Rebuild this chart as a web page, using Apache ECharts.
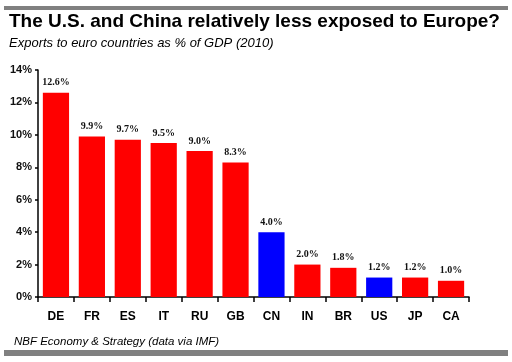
<!DOCTYPE html>
<html><head><meta charset="utf-8">
<script src="https://cdn.jsdelivr.net/npm/echarts@6/dist/echarts.min.js"></script>
<style>html,body{margin:0;padding:0;background:#fff}#c{width:512px;height:362px}</style>
</head><body><div id="c"></div>
<script>
const categories = ['DE','FR','ES','IT','RU','GB','CN','IN','BR','US','JP','CA'];
const values = [12.6, 9.9, 9.7, 9.5, 9.0, 8.3, 4.0, 2.0, 1.8, 1.2, 1.2, 1.0];
const highlighted = ['CN','US'];
const yTicks = [0, 2, 4, 6, 8, 10, 12, 14];

const chart = echarts.init(document.getElementById('c'), null, {renderer:'canvas'});
chart.setOption({
  animation: false,
  backgroundColor: '#fff',
  title: [
    {text: 'The U.S. and China relatively less exposed to Europe?', left: 4, top: 7,
     textStyle: {fontFamily: 'Liberation Sans, Arial', fontWeight: 'bold', fontSize: 19, color: '#000'}},
    {text: 'Exports to euro countries as % of GDP (2010)', left: 4, top: 32,
     textStyle: {fontFamily: 'Liberation Sans, Arial', fontStyle: 'italic', fontWeight: 'normal', fontSize: 13, color: '#000'}},
    {text: 'NBF Economy & Strategy (data via IMF)', left: 9, top: 331,
     textStyle: {fontFamily: 'Liberation Sans, Arial', fontStyle: 'italic', fontWeight: 'normal', fontSize: 11.5, color: '#000'}}
  ],
  graphic: [
    {type: 'rect', shape: {x: 4, y: 6, width: 504, height: 4}, style: {fill: '#808080'}},
    {type: 'rect', shape: {x: 4, y: 350, width: 504, height: 6}, style: {fill: '#808080'}}
  ],
  grid: {left: 38, right: 43, top: 70, bottom: 65},
  xAxis: {
    type: 'category', data: categories,
    axisLine: {lineStyle: {color: '#000', width: 1.5}},
    axisTick: {show: true, length: 5, lineStyle: {color: '#000', width: 1.5}},
    axisLabel: {margin: 14, fontFamily: 'Liberation Sans, Arial', fontWeight: 'bold', fontSize: 12, color: '#000'}
  },
  yAxis: {
    type: 'value', min: 0, max: 14, interval: 2,
    splitLine: {show: false},
    axisLine: {show: true, lineStyle: {color: '#000', width: 1.5}},
    axisTick: {show: true, length: 3, lineStyle: {color: '#000', width: 1.5}},
    axisLabel: {margin: 6, fontFamily: 'Liberation Sans, Arial', fontWeight: 'bold', fontSize: 11, color: '#111',
      formatter: v => yTicks.includes(v) ? v + '%' : ''}
  },
  series: [{
    type: 'bar',
    data: values.map((v, i) => ({value: v, itemStyle: {color: highlighted.includes(categories[i]) ? '#0000ff' : '#ff0000'}})),
    barCategoryGap: '27%',
    label: {show: true, position: 'top', distance: 5, formatter: p => p.value.toFixed(1) + '%',
      fontFamily: 'Liberation Serif, Times New Roman', fontWeight: 'bold', fontSize: 10, color: '#111'}
  }]
});
</script></body></html>
